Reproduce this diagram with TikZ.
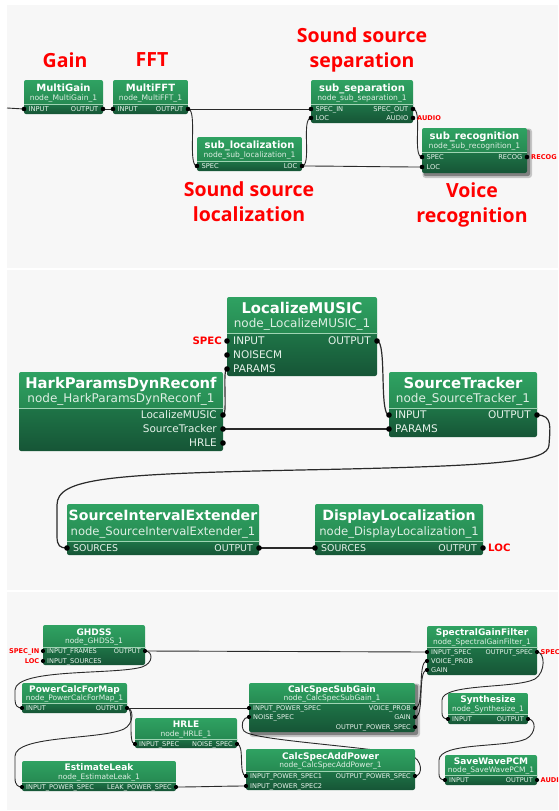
\documentclass[tikz,border=0pt]{standalone}
\usepackage{fontspec}
\setmainfont{DejaVu Sans}
\newfontfamily\annofont{Open Sans}
\usetikzlibrary{fit}

\definecolor{panelbg}{HTML}{F7F7F7}
\definecolor{hdtop}{HTML}{2FA262}
\definecolor{hdbot}{HTML}{268A52}
\definecolor{pttop}{HTML}{1E7447}
\definecolor{ptbot}{HTML}{165536}
\definecolor{sepcol}{HTML}{9FD4B3}
\definecolor{subtxt}{HTML}{DDEEE3}
\definecolor{porttxt}{HTML}{E6F2EA}
\definecolor{wirecol}{HTML}{2A2A2A}
\definecolor{annored}{HTML}{FF0000}

\pgfdeclarelayer{panels}
\pgfdeclarelayer{wires}
\pgfsetlayers{panels,wires,main}

\tikzset{
  % s: first panel, l/k: second panel, t: third panel
  title-s/.style={inner sep=0pt, text=white, text height=7.3pt, text depth=0pt, font=\bfseries\fontsize{10}{12}\selectfont},
  sub-s/.style={inner sep=0pt, text=subtxt, text height=5.5pt, text depth=0pt, font=\fontsize{7.6}{9}\selectfont},
  port-s/.style={inner sep=0pt, text=porttxt, text height=4.9pt, text depth=0pt, font=\fontsize{6.7}{8}\selectfont},
  dot-s/.style={circle, fill=black, inner sep=0pt, minimum size=4.6pt},
  title-l/.style={inner sep=0pt, text=white, text height=10.8pt, text depth=0pt, font=\bfseries\fontsize{14.8}{17}\selectfont},
  sub-l/.style={inner sep=0pt, text=subtxt, text height=8.7pt, text depth=0pt, font=\fontsize{12}{14}\selectfont},
  port-l/.style={inner sep=0pt, text=porttxt, text height=7.6pt, text depth=0pt, font=\fontsize{10.5}{12}\selectfont},
  dot-l/.style={circle, fill=black, inner sep=0pt, minimum size=5.6pt},
  title-k/.style={inner sep=0pt, text=white, text height=10.3pt, text depth=0pt, font=\bfseries\fontsize{14.1}{17}\selectfont},
  sub-k/.style={inner sep=0pt, text=subtxt, text height=8.4pt, text depth=0pt, font=\fontsize{11.6}{14}\selectfont},
  port-k/.style={inner sep=0pt, text=porttxt, text height=6.8pt, text depth=0pt, font=\fontsize{9.4}{11}\selectfont},
  dot-k/.style={dot-l},
  title-t/.style={inner sep=0pt, text=white, text height=6.6pt, text depth=0pt, font=\bfseries\fontsize{9}{11}\selectfont},
  sub-t/.style={inner sep=0pt, text=subtxt, text height=5.4pt, text depth=0pt, font=\fontsize{7.5}{9}\selectfont},
  port-t/.style={inner sep=0pt, text=porttxt, text height=4.8pt, text depth=0pt, font=\fontsize{6.6}{8}\selectfont},
  dot-t/.style={circle, fill=black, inner sep=0pt, minimum size=4.2pt},
  gap-s/.style={xshift=4.5pt}, gap-l/.style={xshift=6pt}, gap-k/.style={xshift=6pt}, gap-t/.style={xshift=4pt},
  ngap-s/.style={xshift=-4.5pt}, ngap-l/.style={xshift=-6pt}, ngap-k/.style={xshift=-6pt}, ngap-t/.style={xshift=-4pt},
  tag-s/.style={inner sep=0pt, text=annored, text height=4.8pt, text depth=0pt, font=\bfseries\fontsize{6.6}{8}\selectfont},
  tag-t/.style={tag-s},
  tag-l/.style={inner sep=0pt, text=annored, text height=7.4pt, text depth=0pt, font=\bfseries\fontsize{10.2}{12}\selectfont},
  anno/.style={inner sep=0pt, text=annored, align=center, font=\annofont\bfseries\fontsize{19.5}{25}\selectfont},
  wire/.style={draw=wirecol, line width=0.9pt},
  wire-l/.style={draw=wirecol, line width=1.2pt},
  sepline/.style={draw=sepcol, line width=0.5pt},
}

% processing block: name, x1, y1, x2, y2, header/port split, title, instance name, size tag
\newcommand{\harkblock}[9]{%
  \begin{scope}
    \clip[rounded corners=2pt] (#2,#3) rectangle (#4,#5);
    \shade[top color=hdtop, bottom color=hdbot] (#2,#3) rectangle (#4,#6);
    \shade[top color=pttop, bottom color=ptbot] (#2,#6) rectangle (#4,#5);
  \end{scope}
  \draw[sepline] (#2,#6) -- (#4,#6);
  \node[fit={(#2,#3) (#4,#5)}, inner sep=0pt, outer sep=0pt] (#1) {};
  \node[title-#9] (#1-title) at ({(#2+#4)/2},{#3+(#6-#3)*0.31}) {#7};
  \node[sub-#9] (#1-sub) at ({(#2+#4)/2},{#3+(#6-#3)*0.74}) {#8};
}
% soft shadow under a selected block
\newcommand{\blockshadow}[4]{%
  \fill[black, opacity=0.2, rounded corners=3pt] ({#1+0.5},{#2+0.5}) rectangle ({#3+5},{#4+5});
  \fill[black, opacity=0.35, rounded corners=2pt] ({#1+1.5},{#2+1.5}) rectangle ({#3+3},{#4+3});
}
% input port: block, port name, label, row y, size tag
\newcommand{\portin}[5]{%
  \node[dot-#5] (#2) at (#1.west |- 0,#4) {};
  \node[port-#5, anchor=west] (#2-lbl) at ([gap-#5]#2.center) {#3};
}
% output port: block, port name, label, row y, size tag
\newcommand{\portout}[5]{%
  \node[dot-#5] (#2) at (#1.east |- 0,#4) {};
  \node[port-#5, anchor=east] (#2-lbl) at ([ngap-#5]#2.center) {#3};
}
% curved connection leaving to the right and entering from the left
\newcommand{\link}[4][wire]{%
  \draw[#1] (#2.center) .. controls +(#4,0) and +(-#4,0) .. (#3.center);
}

\begin{document}
\begin{tikzpicture}[x=1pt, y=-1pt]
\useasboundingbox (0,0) rectangle (558,811);

\begin{pgfonlayer}{panels}
  \fill[white] (0,0) rectangle (558,811);
  \fill[panelbg] (7,5) rectangle (558,268);
  \fill[panelbg] (7,270) rectangle (558,590);
  \fill[panelbg] (7,592) rectangle (558,810);
\end{pgfonlayer}

% ---------------- top: overall network ----------------
\node[anno] (lbl-gain) at (65,60) {Gain};
\node[anno] (lbl-fft) at (152,60) {FFT};
\node[anno, anchor=north] (lbl-sep) at (362,27) {Sound source\\separation};
\node[anno, anchor=north] (lbl-loc) at (249,181) {Sound source\\localization};
\node[anno, anchor=north] (lbl-rec) at (472,182) {Voice\\recognition};

\harkblock{mgain}{24}{80}{103}{114}{104}{MultiGain}{node\_MultiGain\_1}{s}
\harkblock{mfft}{113}{80}{188}{114}{104}{MultiFFT}{node\_MultiFFT\_1}{s}
\harkblock{ssep}{311}{80}{413}{123}{104}{sub\_separation}{node\_sub\_separation\_1}{s}
\harkblock{sloc}{197}{137}{302}{171}{161}{sub\_localization}{node\_sub\_localization\_1}{s}
\blockshadow{422}{128}{527}{173}
\harkblock{srec}{422}{128}{527}{173}{152}{sub\_recognition}{node\_sub\_recognition\_1}{s}

\portin{mgain}{mg-in}{INPUT}{109}{s}
\portout{mgain}{mg-out}{OUTPUT}{109}{s}
\portin{mfft}{mf-in}{INPUT}{109}{s}
\portout{mfft}{mf-out}{OUTPUT}{109}{s}
\portin{ssep}{sp-specin}{SPEC\_IN}{109}{s}
\portin{ssep}{sp-loc}{LOC}{118}{s}
\portout{ssep}{sp-specout}{SPEC\_OUT}{109}{s}
\portout{ssep}{sp-audio}{AUDIO}{118}{s}
\portin{sloc}{sl-spec}{SPEC}{166}{s}
\portout{sloc}{sl-loc}{LOC}{166}{s}
\portin{srec}{sr-spec}{SPEC}{157}{s}
\portin{srec}{sr-loc}{LOC}{167}{s}
\portout{srec}{sr-recog}{RECOG}{157}{s}

\node[tag-s, anchor=west] (tag-audio) at ([xshift=4pt]sp-audio.center) {AUDIO};
\node[tag-s, anchor=west] (tag-recog) at ([xshift=4pt]sr-recog.center) {RECOG};
\coordinate (net-in) at (7,108);

\begin{pgfonlayer}{wires}
  \draw[wire] (net-in) -- (mg-in.center);
  \draw[wire] (mg-out.center) -- (mf-in.center);
  \draw[wire] (mf-out.center) -- (sp-specin.center);
  \link{mf-out}{sl-spec}{10}
  \link{sl-loc}{sp-loc}{10}
  \link{sl-loc}{sr-loc}{30}
  \link{sp-specout}{sr-spec}{10}
\end{pgfonlayer}

% ---------------- middle: localization sub-network ----------------
\harkblock{lmusic}{227}{297}{377}{376}{333}{LocalizeMUSIC}{node\_LocalizeMUSIC\_1}{l}
\harkblock{hpdr}{19}{372}{223}{451}{408}{HarkParamsDynReconf}{node\_HarkParamsDynReconf\_1}{l}
\harkblock{strk}{389}{372}{537}{437}{408}{SourceTracker}{node\_SourceTracker\_1}{l}
\harkblock{sie}{67}{504}{259}{555}{541}{SourceIntervalExtender}{node\_SourceIntervalExtender\_1}{k}
\harkblock{dloc}{315}{504}{483}{555}{541}{DisplayLocalization}{node\_DisplayLocalization\_1}{k}

\portin{lmusic}{lm-in}{INPUT}{341}{l}
\portin{lmusic}{lm-noise}{NOISECM}{355}{l}
\portin{lmusic}{lm-params}{PARAMS}{369}{l}
\portout{lmusic}{lm-out}{OUTPUT}{341}{l}
\portout{hpdr}{hp-lm}{LocalizeMUSIC}{415}{l}
\portout{hpdr}{hp-st}{SourceTracker}{429}{l}
\portout{hpdr}{hp-hrle}{HRLE}{443}{l}
\portin{strk}{st-in}{INPUT}{415}{l}
\portin{strk}{st-params}{PARAMS}{429}{l}
\portout{strk}{st-out}{OUTPUT}{415}{l}
\portin{sie}{sie-src}{SOURCES}{548}{k}
\portout{sie}{sie-out}{OUTPUT}{548}{k}
\portin{dloc}{dl-src}{SOURCES}{548}{k}
\portout{dloc}{dl-out}{OUTPUT}{548}{k}

\node[tag-l, anchor=east] (tag-spec) at ([xshift=-5pt]lm-in.center) {SPEC};
\node[tag-l, anchor=west] (tag-loc) at ([xshift=5pt]dl-out.center) {LOC};

\begin{pgfonlayer}{wires}
  \link[wire-l]{lm-out}{st-in}{10}
  \link[wire-l]{hp-lm}{lm-params}{5}
  \draw[wire-l] (hp-st.center) -- (st-params.center);
  \draw[wire-l] (st-out.center) .. controls +(16,0) and (550,428) .. (549,445)
     .. controls (548,462) and (500,466) .. (300,470)
     .. controls (110,474) and (57,478) .. (57,505) -- (57,536)
     .. controls (57,546) and (60,548) .. (sie-src.center);
  \draw[wire-l] (sie-out.center) -- (dl-src.center);
\end{pgfonlayer}

% ---------------- bottom: separation sub-network ----------------
\harkblock{ghdss}{43}{625}{145}{665}{647}{GHDSS}{node\_GHDSS\_1}{t}
\harkblock{pcfm}{22}{683}{127}{713}{703}{PowerCalcForMap}{node\_PowerCalcForMap\_1}{t}
\harkblock{hrle}{135}{718}{237}{748}{739}{HRLE}{node\_HRLE\_1}{t}
\harkblock{eleak}{22}{761}{176}{791}{782}{EstimateLeak}{node\_EstimateLeak\_1}{t}
\blockshadow{249}{683}{415}{732}
\harkblock{cssg}{249}{683}{415}{732}{703}{CalcSpecSubGain}{node\_CalcSpecSubGain\_1}{t}
\harkblock{csap}{246}{749}{415}{790}{771}{CalcSpecAddPower}{node\_CalcSpecAddPower\_1}{t}
\harkblock{sgf}{427}{626}{537}{675}{647}{SpectralGainFilter}{node\_SpectralGainFilter\_1}{t}
\harkblock{synth}{448}{693}{528}{724}{714}{Synthesize}{node\_Synthesize\_1}{t}
\harkblock{swpcm}{445}{755}{537}{785}{775}{SaveWavePCM}{node\_SaveWavePCM\_1}{t}

\portin{ghdss}{gh-frames}{INPUT\_FRAMES}{651}{t}
\portin{ghdss}{gh-src}{INPUT\_SOURCES}{661}{t}
\portout{ghdss}{gh-out}{OUTPUT}{651}{t}
\portin{pcfm}{pc-in}{INPUT}{708}{t}
\portout{pcfm}{pc-out}{OUTPUT}{708}{t}
\portin{hrle}{hr-in}{INPUT\_SPEC}{744}{t}
\portout{hrle}{hr-noise}{NOISE\_SPEC}{744}{t}
\portin{eleak}{el-in}{INPUT\_POWER\_SPEC}{787}{t}
\portout{eleak}{el-leak}{LEAK\_POWER\_SPEC}{787}{t}
\portin{cssg}{cg-in}{INPUT\_POWER\_SPEC}{708}{t}
\portin{cssg}{cg-noise}{NOISE\_SPEC}{717}{t}
\portout{cssg}{cg-voice}{VOICE\_PROB}{708}{t}
\portout{cssg}{cg-gain}{GAIN}{717}{t}
\portout{cssg}{cg-out}{OUTPUT\_POWER\_SPEC}{727}{t}
\portin{csap}{ca-in1}{INPUT\_POWER\_SPEC1}{776}{t}
\portin{csap}{ca-in2}{INPUT\_POWER\_SPEC2}{786}{t}
\portout{csap}{ca-out}{OUTPUT\_POWER\_SPEC}{776}{t}
\portin{sgf}{sg-in}{INPUT\_SPEC}{652}{t}
\portin{sgf}{sg-voice}{VOICE\_PROB}{661}{t}
\portin{sgf}{sg-gain}{GAIN}{670}{t}
\portout{sgf}{sg-out}{OUTPUT\_SPEC}{652}{t}
\portin{synth}{sy-in}{INPUT}{719}{t}
\portout{synth}{sy-out}{OUTPUT}{719}{t}
\portin{swpcm}{sw-in}{INPUT}{780}{t}
\portout{swpcm}{sw-out}{OUTPUT}{780}{t}

\node[tag-t, anchor=east] (tag-specin) at ([xshift=-3.5pt]gh-frames.center) {SPEC\_IN};
\node[tag-t, anchor=east] (tag-ghloc) at ([xshift=-3.5pt]gh-src.center) {LOC};
\node[tag-t, anchor=west] (tag-sgspec) at ([xshift=3.5pt]sg-out.center) {SPEC};
\node[tag-t, anchor=west] (tag-swaudio) at ([xshift=3.5pt]sw-out.center) {AUDIO};

\begin{pgfonlayer}{wires}
  \draw[wire] (gh-out.center) -- (sg-in.center);
  \draw[wire] (gh-out.center) .. controls (153,651) and (154,663) .. (142,667)
     .. controls (115,675) and (16,668) .. (15,690) -- (15,700)
     .. controls (15,706) and (18,708) .. (pc-in.center);
  \draw[wire] (pc-out.center) -- (cg-in.center);
  \link{pc-out}{hr-in}{8}
  \draw[wire] (pc-out.center) .. controls (134,708) and (134,724) .. (124,729)
     .. controls (100,740) and (16,735) .. (15,756) -- (15,778)
     .. controls (15,785) and (18,787) .. (el-in.center);
  \link{hr-noise}{ca-in1}{8}
  \link{el-leak}{ca-in2}{20}
  \draw[wire] (ca-out.center) .. controls (423,776) and (423,759) .. (410,755)
     .. controls (350,745) and (252,740) .. (244,731)
     .. controls (240,725) and (243,717) .. (cg-noise.center);
  \link{cg-voice}{sg-voice}{10}
  \link{cg-gain}{sg-gain}{10}
  \draw[wire] (sg-out.center) .. controls (545,652) and (546,672) .. (535,679)
     .. controls (515,689) and (443,683) .. (442,700) -- (442,713)
     .. controls (442,717) and (444,719) .. (sy-in.center);
  \draw[wire] (sy-out.center) .. controls (536,719) and (537,733) .. (526,739)
     .. controls (505,748) and (440,742) .. (439,760) -- (439,774)
     .. controls (439,778) and (441,780) .. (sw-in.center);
\end{pgfonlayer}

\end{tikzpicture}
\end{document}
